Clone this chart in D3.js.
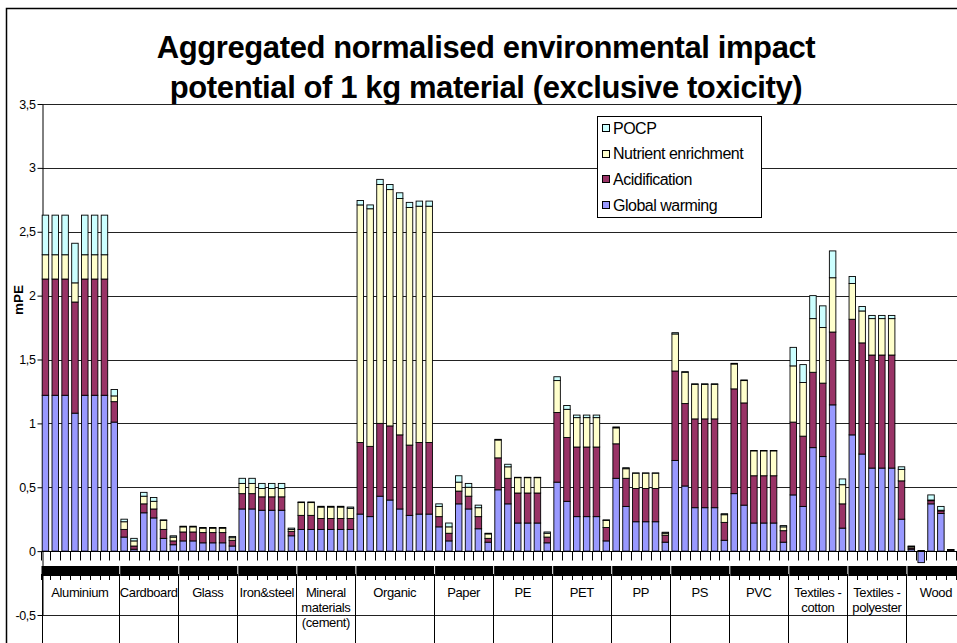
<!DOCTYPE html>
<html><head><meta charset="utf-8">
<script src="https://cdn.jsdelivr.net/npm/d3@7"></script>
<style>
body{margin:0;background:#fff;overflow:hidden}
svg{display:block;font-family:"Liberation Sans",Arial,sans-serif}
</style>
</head><body>
<svg id="chart" width="957" height="643"></svg>
<script>
// ---------------- DATA ----------------
const groupLabels = [["Aluminium"],["Cardboard"],["Glass"],["Iron&steel"],["Mineral","materials","(cement)"],["Organic"],["Paper"],["PE"],["PET"],["PP"],["PS"],["PVC"],["Textiles -","cotton"],["Textiles -","polyester"],["Wood"]];
const groupSizes = [8,6,6,6,6,8,6,6,6,6,6,6,6,6,6];
const seriesNames = ["Global warming","Acidification","Nutrient enrichment","POCP"];
const seriesColors = ["#9999FF","#993366","#FFFFCC","#CCFFFF"];

const globalWarming = [
 1.22,1.22,1.22,1.08,1.22,1.22,1.22,1.01,
 0.11,0.015,0.30,0.26,0.10,0.05,
 0.08,0.08,0.065,0.065,0.065,0.04,
 0.33,0.33,0.32,0.32,0.32,0.12,
 0.17,0.17,0.17,0.17,0.17,0.17,
 0.29,0.27,0.43,0.40,0.33,0.28,0.29,0.29,
 0.19,0.08,0.37,0.33,0.175,0.07,
 0.48,0.37,0.22,0.22,0.22,0.065,
 0.54,0.39,0.27,0.27,0.27,0.08,
 0.57,0.35,0.23,0.23,0.23,0.07,
 0.71,0.51,0.34,0.34,0.34,0.085,
 0.45,0.36,0.22,0.22,0.22,0.07,
 0.44,0.35,0.81,0.74,1.145,0.18,
 0.91,0.76,0.65,0.65,0.65,0.25,
 0.015,-0.09,0.37,0.295,0.003,0];
const acidification = [
 0.91,0.91,0.91,0.87,0.91,0.91,0.91,0.16,
 0.06,0.025,0.07,0.07,0.07,0.03,
 0.07,0.07,0.08,0.08,0.08,0.045,
 0.12,0.12,0.105,0.105,0.105,0.035,
 0.11,0.11,0.085,0.085,0.085,0.085,
 0.56,0.55,0.57,0.58,0.58,0.55,0.56,0.56,
 0.08,0.06,0.10,0.10,0.095,0.03,
 0.25,0.20,0.235,0.235,0.235,0.045,
 0.545,0.50,0.545,0.545,0.545,0.105,
 0.27,0.22,0.26,0.26,0.26,0.055,
 0.70,0.645,0.695,0.695,0.695,0.14,
 0.82,0.80,0.37,0.37,0.37,0.09,
 0.57,0.55,0.59,0.575,0.57,0.19,
 0.905,0.87,0.885,0.885,0.885,0.30,
 0.01,0.005,0.025,0.02,0.008,0];
const nutrientEnrichment = [
 0.19,0.19,0.19,0.15,0.19,0.19,0.19,0.045,
 0.06,0.04,0.06,0.06,0.07,0.03,
 0.04,0.04,0.035,0.035,0.035,0.02,
 0.08,0.08,0.065,0.065,0.065,0.015,
 0.10,0.10,0.09,0.09,0.09,0.08,
 1.86,1.86,1.87,1.85,1.85,1.86,1.85,1.85,
 0.08,0.05,0.07,0.07,0.07,0.035,
 0.14,0.09,0.12,0.12,0.12,0.03,
 0.25,0.22,0.23,0.23,0.23,0.055,
 0.125,0.075,0.12,0.12,0.12,0.015,
 0.29,0.245,0.27,0.27,0.27,0.06,
 0.195,0.175,0.195,0.195,0.195,0.03,
 0.44,0.42,0.42,0.435,0.425,0.15,
 0.28,0.25,0.285,0.285,0.285,0.09,
 0.01,0,0.005,0.005,0.002,0];
const pocp = [
 0.31,0.31,0.31,0.31,0.31,0.31,0.31,0.05,
 0.02,0.02,0.03,0.03,0.005,0.01,
 0.005,0.005,0.005,0.005,0.005,0.01,
 0.04,0.04,0.04,0.04,0.04,0.01,
 0.005,0.005,0.006,0.006,0.006,0.01,
 0.035,0.03,0.04,0.04,0.045,0.04,0.04,0.04,
 0.02,0.03,0.05,0.03,0.02,0.005,
 0.005,0.02,0.003,0.003,0.003,0.01,
 0.03,0.03,0.02,0.02,0.02,0.005,
 0.007,0.008,0.002,0.002,0.002,0.008,
 0.01,0.005,0.005,0.005,0.005,0.008,
 0.005,0.005,0.003,0.003,0.003,0.01,
 0.145,0.14,0.18,0.17,0.21,0.045,
 0.055,0.035,0.025,0.025,0.025,0.02,
 0.005,0,0.04,0.03,0,0];
const yTicks = [-0.5,0,0.5,1,1.5,2,2.5,3,3.5];
const titleLines = ["Aggregated normalised environmental impact","potential of 1 kg material (exclusive toxicity)"];
const yTitle = "mPE";

// ---------------- BUILD ----------------
const FONT = "'Liberation Sans',Arial,sans-serif";
const svg = d3.select("#chart");
const nBars = globalWarming.length;
const rows = d3.range(nBars).map(i => ({i, gw: globalWarming[i], ac: acidification[i], nu: nutrientEnrichment[i], po: pocp[i]}));
const keys = ["gw","ac","nu","po"];
const stacked = d3.stack().keys(keys).offset(d3.stackOffsetDiverging)(rows);

const plotLeft = 40.5, step = 9.84;
const x = d3.scaleBand().domain(d3.range(nBars)).range([plotLeft, plotLeft + step*nBars]).paddingInner(0.34).paddingOuter(0.17);
const y = d3.scaleLinear().domain([-0.5, 3.5]).range([615, 104]);
const axisX = 42;
const crisp = v => Math.round(v) + 0.5;

// outer chart frame
svg.append("path").attr("d", `M6.5,643 V8.5 H957`).attr("fill","none").attr("stroke","#000").attr("stroke-width",1.5);

// title
svg.append("g").selectAll("text").data(titleLines).join("text")
  .attr("x", 486).attr("y", (d,i) => 58 + i*40)
  .attr("text-anchor","middle").attr("font-weight","bold").attr("font-size", 31)
  .attr("letter-spacing", -0.4)
  .text(d => d);

// gridlines
svg.append("g").selectAll("line").data(yTicks.filter(t => t !== 0)).join("line")
  .attr("x1", axisX).attr("x2", 957)
  .attr("y1", d => crisp(y(d))).attr("y2", d => crisp(y(d)))
  .attr("stroke", "#222").attr("stroke-width", 1);

// y axis
const yAxis = d3.axisLeft(y).tickValues(yTicks).tickSize(5).tickSizeOuter(0)
  .tickFormat(d => String(d).replace(".", ","));
const gy = svg.append("g").attr("transform", `translate(${axisX + 0.5},0)`).call(yAxis);
gy.selectAll("text").attr("font-size", 12.5).attr("font-family", FONT).attr("fill","#000").attr("x", -7).attr("letter-spacing", -0.4);
gy.select(".domain").attr("stroke","#000");
gy.selectAll(".tick line").attr("stroke","#000");

// y title
svg.append("text").attr("transform", "translate(23,300) rotate(-90)")
  .attr("text-anchor","middle").attr("font-weight","bold").attr("font-size", 13.5).text(yTitle);

// bars
const layers = svg.append("g").selectAll("g").data(stacked).join("g")
  .attr("fill", (d,k) => seriesColors[k]);
layers.selectAll("rect").data(d => d.filter(s => s[1] !== s[0])).join("rect")
  .attr("x", d => x(d.data.i))
  .attr("width", x.bandwidth())
  .attr("y", d => y(Math.max(d[0], d[1])))
  .attr("height", d => Math.abs(y(d[0]) - y(d[1])))
  .attr("stroke", "#000").attr("stroke-width", 0.9);

// category axis line at 0
const y0 = crisp(y(0));
svg.append("line").attr("x1", axisX).attr("x2", 957).attr("y1", y0).attr("y2", y0).attr("stroke","#000");

// slot tick marks
const bounds = d3.range(nBars + 1).map(i => plotLeft + i*step);
const tg = svg.append("g").attr("stroke","#000").attr("stroke-width",1);
tg.selectAll("line.t1").data(bounds).join("line").attr("class","t1")
  .attr("x1", d => crisp(d)).attr("x2", d => crisp(d)).attr("y1", y0).attr("y2", y0 + 9);
tg.selectAll("line.t2").data(bounds).join("line").attr("class","t2")
  .attr("x1", d => crisp(d)).attr("x2", d => crisp(d)).attr("y1", 574).attr("y2", 580);

// group extents
let acc = 0;
const groupsInfo = groupSizes.map((n, g) => {
  const s = acc; acc += n;
  return {g, start: plotLeft + s*step, end: plotLeft + acc*step, lines: groupLabels[g]};
});

// overlapping sub-category labels (rendered as a dark band, as in the source)
svg.append("g").selectAll("rect").data(groupsInfo).join("rect")
  .attr("x", d => d.start + 1).attr("width", d => d.end - d.start - 1)
  .attr("y", 566).attr("height", 10).attr("fill", "#000");

// group separators
svg.append("g").selectAll("line").data([plotLeft+1.5].concat(groupsInfo.map(d => d.end))).join("line")
  .attr("x1", d => crisp(d)).attr("x2", d => crisp(d)).attr("y1", 574).attr("y2", 643)
  .attr("stroke","#000");

// group labels
const gl = svg.append("g").attr("font-size", 13).attr("text-anchor","middle").attr("letter-spacing", -0.4);
groupsInfo.forEach(d => {
  d.lines.forEach((t, k) => {
    gl.append("text").attr("x", (d.start + d.end)/2).attr("y", 597 + k*15).text(t);
  });
});

// legend
const legend = svg.append("g");
legend.append("rect").attr("x", 597.5).attr("y", 116.5).attr("width", 164).attr("height", 101)
  .attr("fill","#fff").attr("stroke","#000");
const legendOrder = [3,2,1,0];
legendOrder.forEach((k, j) => {
  const cy = 128 + j*25.7;
  legend.append("rect").attr("x", 602.5).attr("y", Math.round(cy) - 3.5).attr("width", 7).attr("height", 7)
    .attr("fill", seriesColors[k]).attr("stroke","#000");
  legend.append("text").attr("x", 613).attr("y", cy + 5.5).attr("font-size", 16).attr("letter-spacing", -0.5).text(seriesNames[k]);
});
</script>
</body></html>
